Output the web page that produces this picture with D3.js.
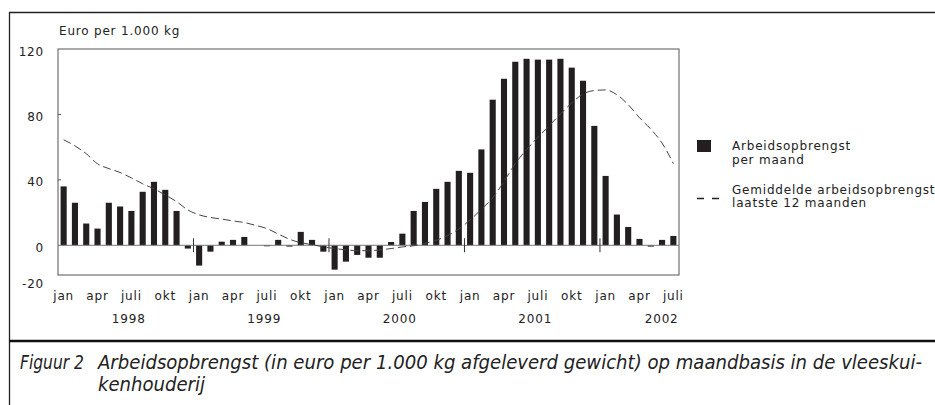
<!DOCTYPE html>
<html>
<head>
<meta charset="utf-8">
<script src="https://cdn.jsdelivr.net/npm/d3@7"></script>
<style>
  body { margin: 0; background: #fff; }
  svg text { font-family: "DejaVu Sans", sans-serif; fill: #222; }
  .lab { font-size: 12px; letter-spacing: 0.8px; }
</style>
</head>
<body>
<div id="chart"></div>
<script>
// months shown on the axis, the rest stay empty
var monthNames = ["jan", "", "", "apr", "", "", "juli", "", "", "okt", "", ""];
var years = ["1998", "1999", "2000", "2001", "2002"];
var monthsPerYear = [12, 12, 12, 12, 7];

// Arbeidsopbrengst per maand (euro per 1.000 kg)
var monthly = [
  36, 26, 13.3, 10.2, 26, 23.7, 21, 32.7, 38.8, 33.9, 21, -2,
  -12.4, -3.9, 2.2, 3.3, 5.1, 0, -0.6, 3.3, -0.8, 8.2, 3.3, -3.9,
  -14.9, -10, -5.9, -7.6, -7.6, 2, 7.1, 21, 26.5, 34.5, 38.8, 45.5,
  44.3, 58.6, 89, 101.8, 112.2, 114, 113.5, 113.5, 114, 108.6, 100.6, 73,
  42.4, 18.8, 11.2, 3.9, -0.8, 3.3, 5.7
];
// Gemiddelde laatste 12 maanden
var average12 = [
  64.5, 60.8, 56, 49.8, 46.9, 44.5, 41.2, 37.6, 34.5, 30.8, 26.7, 21.6,
  18.6, 17, 16, 14.9, 13.9, 12.2, 10.2, 6.9, 3.7, 1.6, 0.4, -1,
  -2, -2.8, -3.3, -3.3, -2.8, -2, -1, -0.3, 1.2, 3, 6, 10,
  15.5, 22, 29, 39, 50, 58.5, 66, 73, 80.3, 87, 92.5, 94.6,
  95, 92, 86, 78, 71, 62.5, 50
];
var yTicks = [-20, 0, 40, 80, 120];

// build month keys
var keys = [];
years.forEach(function(y, yi) {
  for (let m = 0; m < monthsPerYear[yi]; m++) keys.push(y + "-" + m);
});

var W = 935, H = 405;
var svg = d3.select("#chart").append("svg").attr("width", W).attr("height", H);

// outer frame like the report page
svg.append("line").attr("x1", 9.5).attr("x2", 9.5).attr("y1", 12).attr("y2", H).attr("stroke", "#222").attr("stroke-width", 1.3);
svg.append("line").attr("x1", 9).attr("x2", W).attr("y1", 12.5).attr("y2", 12.5).attr("stroke", "#222").attr("stroke-width", 1.3);
svg.append("line").attr("x1", 9).attr("x2", W).attr("y1", 341).attr("y2", 341).attr("stroke", "#111").attr("stroke-width", 2.5);

var x = d3.scaleBand().domain(keys).range([58, 679]).paddingInner(0.46).paddingOuter(0.23);
var step = x.step();
var y = d3.scaleLinear().domain([-20, 120]).range([278, 49]);

var plotTop = y(120), plotBottom = 275;

// plot frame
svg.append("rect").attr("x", 58).attr("y", plotTop).attr("width", 679 - 58).attr("height", plotBottom - plotTop)
  .attr("fill", "none").attr("stroke", "#555").attr("stroke-width", 1);

// y axis labels and small inner ticks
var yAxis = d3.axisLeft(y).tickValues(yTicks).tickSize(0).tickPadding(14).tickFormat(function(d) { return String(d); });
var ga = svg.append("g").attr("transform", "translate(58,0)").call(yAxis);
ga.select(".domain").remove();
ga.selectAll("text").attr("class", "lab").attr("font-family", null).attr("font-size", null).attr("fill", "#222")
  .attr("dy", function(d) { return d == -20 ? "0.75em" : "0.5em"; });
svg.selectAll(".ytick").data([40, 80]).enter().append("line")
  .attr("x1", 58).attr("x2", 61).attr("y1", function(d) { return y(d); }).attr("y2", function(d) { return y(d); })
  .attr("stroke", "#555");

svg.append("text").attr("class", "lab").attr("x", 59).attr("y", 35).text("Euro per 1.000 kg");

// bars
svg.selectAll(".bar").data(monthly).enter().append("rect")
  .attr("x", function(d, i) { return x(keys[i]); })
  .attr("width", x.bandwidth())
  .attr("y", function(d) { return y(Math.max(0, d)); })
  .attr("height", function(d) { return Math.abs(y(d) - y(0)); })
  .attr("fill", "#231f20");

// zero line
svg.append("line").attr("x1", 58).attr("x2", 679).attr("y1", y(0)).attr("y2", y(0)).attr("stroke", "#777").attr("stroke-width", 1);

// year marks on zero line
var yearStarts = [12, 24, 36, 48];
svg.selectAll(".ymark").data(yearStarts).enter().append("line")
  .attr("x1", function(d) { return x(keys[d]) - (step - x.bandwidth()) / 2; })
  .attr("x2", function(d) { return x(keys[d]) - (step - x.bandwidth()) / 2; })
  .attr("y1", y(0) - 7).attr("y2", y(0) + 7).attr("stroke", "#333").attr("stroke-width", 1);

// 12-month average line
var line = d3.line()
  .x(function(d, i) { return x(keys[i]) + x.bandwidth() / 2; })
  .y(function(d) { return y(d); })
  .curve(d3.curveMonotoneX);
svg.append("path").datum(average12).attr("d", line)
  .attr("fill", "none").attr("stroke", "#444").attr("stroke-width", 1).attr("stroke-dasharray", "8,4");

// month labels
svg.selectAll(".mlab").data(keys).enter().append("text").attr("class", "lab")
  .attr("x", function(d) { return x(d) + x.bandwidth() / 2; })
  .attr("y", 300).attr("text-anchor", "middle")
  .text(function(d) { return monthNames[+d.split("-")[1]]; });

// year labels
svg.selectAll(".ylab").data(years).enter().append("text").attr("class", "lab")
  .attr("x", function(d, i) {
    var k = keys.indexOf(d + "-0");
    var off = monthsPerYear[i] == 12 ? 6 : 5.2;
    return x(keys[k]) - (step - x.bandwidth()) / 2 + off * step + 3;
  })
  .attr("y", 323).attr("text-anchor", "middle")
  .text(function(d) { return d; });

// legend
var lg = svg.append("g");
lg.append("rect").attr("x", 697).attr("y", 140).attr("width", 14).attr("height", 12).attr("fill", "#231f20");
lg.append("text").attr("class", "lab").attr("x", 732).attr("y", 150).text("Arbeidsopbrengst");
lg.append("text").attr("class", "lab").attr("x", 732).attr("y", 163.5).text("per maand");
lg.append("line").attr("x1", 697).attr("x2", 720).attr("y1", 198.5).attr("y2", 198.5)
  .attr("stroke", "#222").attr("stroke-width", 1.3).attr("stroke-dasharray", "7,8");
lg.append("text").attr("class", "lab").attr("x", 732).attr("y", 193.5).text("Gemiddelde arbeidsopbrengst");
lg.append("text").attr("class", "lab").attr("x", 732).attr("y", 207).text("laatste 12 maanden");

// caption, squeezed to look like the condensed italic of the report
var capFont = "'Liberation Sans', Arial, sans-serif";
var cap = svg.append("g").attr("font-style", "italic").attr("font-family", capFont).attr("font-size", 20);
var c1 = cap.append("text").attr("x", 98).attr("y", 369)
  .text("Arbeidsopbrengst (in euro per 1.000 kg afgeleverd gewicht) op maandbasis in de vleeskui-");
var squeeze = 824 / c1.node().getComputedTextLength();
c1.attr("textLength", 824).attr("lengthAdjust", "spacingAndGlyphs");
cap.append("text").attr("x", 20).attr("y", 369).attr("textLength", 64).attr("lengthAdjust", "spacingAndGlyphs").text("Figuur 2");
var c2 = cap.append("text").attr("x", 98).attr("y", 391).text("kenhouderij");
c2.attr("textLength", c2.node().getComputedTextLength() * squeeze).attr("lengthAdjust", "spacingAndGlyphs");
</script>
</body>
</html>
